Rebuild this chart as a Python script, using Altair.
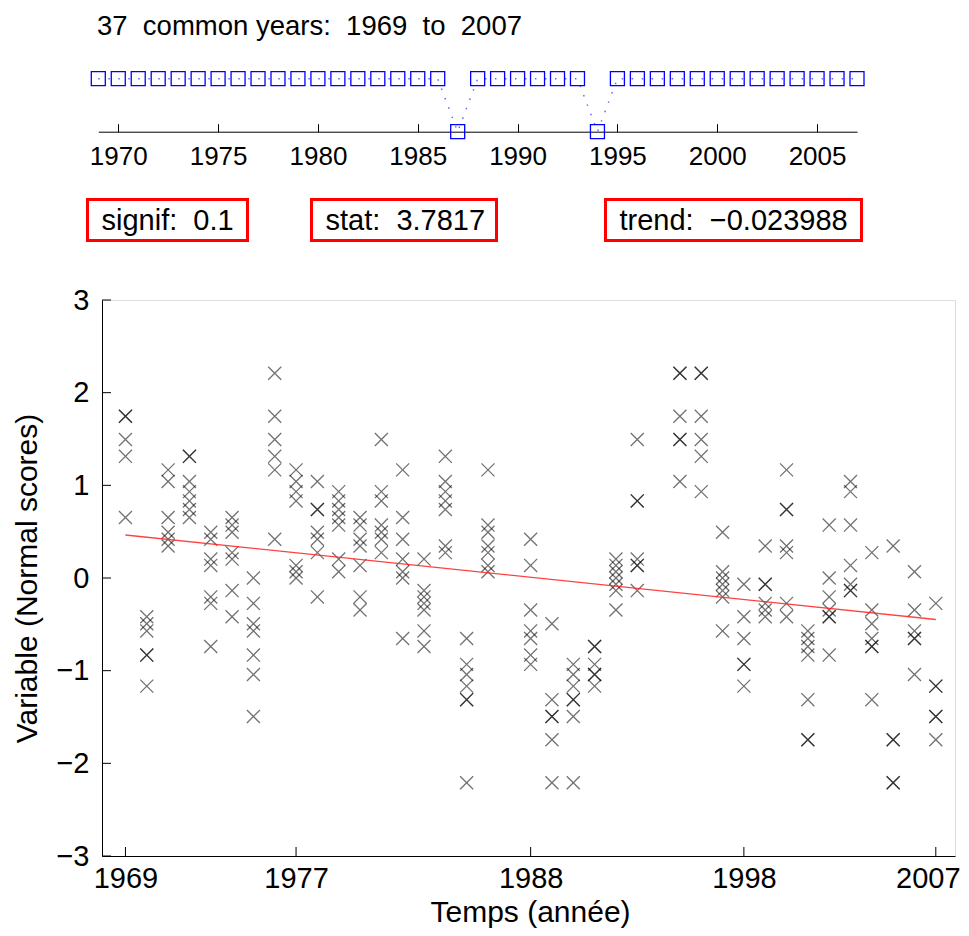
import altair as alt
import pandas as pd

# ---------------- data ----------------
years = [1969, 1970, 1971, 1972, 1973, 1974, 1975, 1976, 1977, 1978, 1979, 1980,
         1981, 1982, 1983, 1984, 1985, 1986, 1988, 1989, 1990, 1991, 1992, 1993,
         1995, 1996, 1997, 1998, 1999, 2000, 2001, 2002, 2003, 2004, 2005, 2006, 2007]
missing_years = [1987, 1994]

scores = [
    [1.745, 1.745, 1.494, 1.313, 0.653],                 # 1969
    [-0.418, -0.493, -0.571, -0.832, -0.832, -1.167],    # 1970
    [1.167, 1.042, 0.653, 0.493, 0.418, 0.345],          # 1971
    [1.313, 1.313, 1.042, 0.932, 0.832, 0.739, 0.653],   # 1972
    [0.493, 0.418, 0.204, 0.136, -0.204, -0.274, -0.739],  # 1973
    [0.653, 0.571, 0.493, 0.274, 0.204, -0.136, -0.418],   # 1974
    [0.0, -0.274, -0.493, -0.571, -0.832, -1.042, -1.494],  # 1975
    [2.21, 1.745, 1.494, 1.313, 1.167, 0.418],           # 1976
    [1.167, 1.042, 0.932, 0.832, 0.136, 0.068, 0.0],     # 1977
    [1.042, 0.739, 0.739, 0.493, 0.418, 0.274, -0.204],  # 1978
    [0.932, 0.832, 0.739, 0.653, 0.571, 0.204, 0.068],   # 1979
    [0.653, 0.571, 0.418, 0.345, 0.136, -0.204, -0.345], # 1980
    [1.494, 0.932, 0.832, 0.571, 0.493, 0.418, 0.274],   # 1981
    [1.167, 0.653, 0.418, 0.204, 0.068, 0.0, -0.653],    # 1982
    [0.204, -0.136, -0.204, -0.274, -0.345, -0.571, -0.739],  # 1983
    [1.313, 1.042, 0.932, 0.832, 0.739, 0.345, 0.274],   # 1984
    [-0.653, -0.932, -1.042, -1.167, -1.313, -1.313, -2.21],  # 1985
    [1.167, 0.571, 0.493, 0.345, 0.274, 0.136, 0.068],   # 1986
    [0.418, 0.136, -0.345, -0.571, -0.653, -0.832, -0.932],   # 1988
    [-0.493, -1.313, -1.494, -1.494, -1.745, -2.21],     # 1989
    [-0.932, -1.042, -1.167, -1.313, -1.313, -1.494, -2.21],  # 1990
    [-0.739, -0.739, -0.932, -1.042, -1.042, -1.167],    # 1991
    [0.204, 0.136, 0.068, 0.0, -0.068, -0.136, -0.345],  # 1992
    [1.494, 0.832, 0.832, 0.204, 0.136, 0.136, -0.136],  # 1993
    [2.21, 2.21, 1.745, 1.494, 1.494, 1.042],            # 1995
    [2.21, 2.21, 1.745, 1.494, 1.313, 0.932],            # 1996
    [0.493, 0.068, 0.0, -0.068, -0.136, -0.204, -0.571], # 1997
    [-0.068, -0.418, -0.653, -0.932, -0.932, -1.167],    # 1998
    [0.345, -0.068, -0.068, -0.274, -0.345, -0.418],     # 1999
    [1.167, 0.739, 0.739, 0.345, 0.274, -0.274, -0.418], # 2000
    [-0.571, -0.653, -0.739, -0.832, -1.313, -1.745, -1.745],  # 2001
    [0.571, 0.0, -0.204, -0.345, -0.418, -0.418, -0.832],  # 2002
    [1.042, 0.932, 0.571, 0.136, -0.068, -0.136, -0.136],  # 2003
    [0.274, -0.345, -0.493, -0.653, -0.739, -0.739, -1.313],  # 2004
    [0.345, -1.745, -1.745, -2.21, -2.21],               # 2005
    [0.068, -0.345, -0.571, -0.653, -0.653, -1.042],     # 2006
    [-0.274, -1.167, -1.167, -1.494, -1.494, -1.745],    # 2007
]

trend_years = [1969, 2007]
trend_values = [0.464, -0.448]

x_tick_values = [1969, 1977, 1988, 1998, 2007]
y_tick_values = [-3, -2, -1, 0, 1, 2, 3]
timeline_ticks = [1970, 1975, 1980, 1985, 1990, 1995, 2000, 2005]

stat_names = ["signif:", "stat:", "trend:"]
stat_values = ["0.1", "3.7817", "\u22120.023988"]

x_title = "Temps (année)"
y_title = "Variable (Normal scores)"

# ---------------- layout constants ----------------
W, H = 853, 556
FONT = "Liberation Sans"
SP2 = "\u00a0\u00a0"

pts = pd.DataFrame([{"year": y, "score": v} for y, vals in zip(years, scores) for v in vals])
trend_df = pd.DataFrame({"year": trend_years, "score": trend_values})
xt_df = pd.DataFrame({"year": x_tick_values})
yt_df = pd.DataFrame({"score": y_tick_values})

x_main = alt.Scale(domain=[1967.9, 2007.9], nice=False, zero=False)
y_main = alt.Scale(domain=[-3, 3], nice=False, zero=False)

x_axis = alt.Axis(values=x_tick_values, format="d", tickSize=0, labelPadding=8,
                  labelFontSize=29, labelFont=FONT, labelColor="black",
                  labelFlush=False, labelOverlap=False,
                  labelOffset={"condition": {"test": f"datum.value == {x_tick_values[-1]}",
                                             "value": -8}, "value": 0},
                  domainColor="black", domainWidth=1, grid=False,
                  title=x_title, titleFont=FONT, titleFontSize=30,
                  titleFontWeight="normal", titleColor="black",
                  titleX=428, titleY=65, titleAlign="center",
                  titleBaseline="alphabetic")
y_axis = alt.Axis(values=y_tick_values, format="d", tickSize=0, labelPadding=13,
                  labelFontSize=29, labelFont=FONT, labelColor="black",
                  labelFlush=False, labelOverlap=False,
                  domainColor="black", domainWidth=1, grid=False,
                  title=y_title, titleFont=FONT, titleFontSize=30,
                  titleFontWeight="normal", titleColor="black",
                  titleX=-66, titleY=H / 2, titleAngle=-90, titleAlign="center",
                  titleBaseline="alphabetic")

xshape = "M-1,-1L1,1M-1,1L1,-1"
points = alt.Chart(pts).mark_point(
    shape=xshape, size=170, filled=False, color="black", opacity=0.55, strokeWidth=1.3
).encode(
    x=alt.X("year:Q", scale=x_main, axis=x_axis),
    y=alt.Y("score:Q", scale=y_main, axis=y_axis),
)

trend = alt.Chart(trend_df).mark_line(color="#ff2020", strokeWidth=1.4, opacity=0.85).encode(
    x=alt.X("year:Q", scale=x_main),
    y=alt.Y("score:Q", scale=y_main),
)

xticks = alt.Chart(xt_df).mark_rule(color="black", strokeWidth=1).encode(
    x=alt.X("year:Q", scale=x_main),
    y=alt.value(H), y2=alt.value(H - 9),
)
yticks = alt.Chart(yt_df).mark_rule(color="black", strokeWidth=1).encode(
    y=alt.Y("score:Q", scale=y_main),
    x=alt.value(0), x2=alt.value(9),
)

main = alt.layer(points, trend, xticks, yticks)

# ---------------- timeline panel ----------------
all_years = sorted(years + missing_years)
tl_df = pd.DataFrame({"tyear": all_years,
                      "row": [0 if y in missing_years else 1 for y in all_years]})

x_tl = alt.Scale(domain=[1969, 2007], range=[-3.7, 755], nice=False, zero=False)
y_tl = alt.Scale(domain=[0, 1], range=[-168.3, -221.3], nice=False, zero=False)

tl_axis = alt.Axis(orient="top", offset=168.3, values=timeline_ticks, format="d",
                   tickSize=8, tickColor="black", domainColor="black", domainWidth=1,
                   labelPadding=-20, labelBaseline="top", labelFontSize=26,
                   labelFont=FONT, labelColor="black", labelFlush=False,
                   labelOverlap=False, grid=False, title=None)

tl_line = alt.Chart(tl_df).mark_line(color="blue", strokeDash=[1.5, 8.5],
                                     strokeWidth=1.5, opacity=0.6).encode(
    x=alt.X("tyear:Q", scale=x_tl, axis=tl_axis),
    y=alt.Y("row:Q", scale=y_tl, axis=None),
)
tl_sq = alt.Chart(tl_df).mark_point(shape="square", size=196, filled=False,
                                    color="blue", strokeWidth=1.3, opacity=1).encode(
    x=alt.X("tyear:Q", scale=x_tl),
    y=alt.Y("row:Q", scale=y_tl),
)
timeline = alt.layer(tl_line, tl_sq)

# ---------------- annotations ----------------
title_text = f"{len(years)}{SP2}common years:{SP2}{min(all_years)}{SP2}to{SP2}{max(all_years)}"
title_df = pd.DataFrame({"t": [title_text]})
title_mark = alt.Chart(title_df).mark_text(
    align="left", baseline="alphabetic", fontSize=27.5, font=FONT, color="black"
).encode(x=alt.value(-5), y=alt.value(-265), text="t:N")

box_x = [(-14.5, 145.5), (209.5, 394.5), (503.5, 759.5)]
ann_layers = [title_mark]
for name, val, (bx0, bx1) in zip(stat_names, stat_values, box_x):
    d = pd.DataFrame({"t": [f"{name}{SP2}{val}"]})
    rect = alt.Chart(d).mark_rect(filled=False, stroke="red", strokeWidth=3).encode(
        x=alt.value(bx0), x2=alt.value(bx1), y=alt.value(-100.5), y2=alt.value(-59.5))
    txt = alt.Chart(d).mark_text(align="left", baseline="alphabetic", fontSize=29,
                                 font=FONT, color="black").encode(
        x=alt.value(bx0 + 14), y=alt.value(-70), text="t:N")
    ann_layers += [rect, txt]
annotations = alt.layer(*ann_layers)

chart = alt.layer(main, timeline, annotations).resolve_scale(
    x="independent", y="independent"
).properties(
    width=W, height=H,
    autosize=alt.AutoSizeParams(type="none"),
    padding={"left": 94, "top": 292, "right": 6, "bottom": 72},
).configure_view(stroke=None).configure(font=FONT)

chart.save("out.html", embed_options={"renderer": "svg", "actions": False})
